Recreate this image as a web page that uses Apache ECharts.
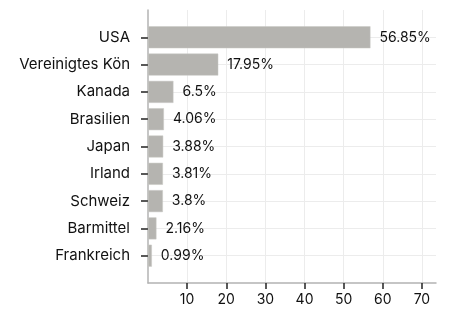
<!DOCTYPE html>
<html><head><meta charset="utf-8">
<script src="https://cdn.jsdelivr.net/npm/echarts@6/dist/echarts.min.js"></script>
<style>html,body{margin:0;padding:0;background:#fff}#c{width:449px;height:315px}</style>
</head><body><div id="c"></div>
<script>
const categories = ["USA","Vereinigtes Kön","Kanada","Brasilien","Japan","Irland","Schweiz","Barmittel","Frankreich"];
const values = [56.85, 17.95, 6.5, 4.06, 3.88, 3.81, 3.8, 2.16, 0.99];
const labels = ["56.85%","17.95%","6.5%","4.06%","3.88%","3.81%","3.8%","2.16%","0.99%"];
const xTicks = [10, 20, 30, 40, 50, 60, 70];

const cats = [''].concat(categories.slice().reverse()).concat(['']);
const vals = [null].concat(values.slice().reverse()).concat([null]);
const labs = [''].concat(labels.slice().reverse()).concat(['']);
const font = 'Inter, "Noto Sans", sans-serif';
const chart = echarts.init(document.getElementById('c'), null, {renderer:'canvas'});
chart.setOption({
  animation:false,
  grid:{left:148,right:13,top:10,bottom:32,containLabel:false},
  xAxis:{type:'value',min:0,max:73.6,
    axisLine:{show:true,lineStyle:{color:'#b3b3b3',width:1.5}},
    axisTick:{show:true,customValues:xTicks,length:6,lineStyle:{color:'#222',width:1.5}},
    axisLabel:{customValues:xTicks,color:'#111',fontSize:14,fontFamily:font,margin:10},
    splitLine:{show:true,lineStyle:{color:'#ececec',width:1}}
  },
  yAxis:{type:'category',data:cats,boundaryGap:false,
    axisLine:{show:true,lineStyle:{color:'#b3b3b3',width:1.5}},
    axisTick:{show:true,length:7,interval:(i,v)=>v!=='',lineStyle:{color:'#222',width:1.5}},
    axisLabel:{color:'#111',fontSize:15,fontFamily:font,margin:18,interval:0},
    splitLine:{show:true,interval:(i,v)=>v!=='',lineStyle:{color:'#ececec',width:1}}
  },
  series:[{type:'bar',data:vals,barWidth:22,
    itemStyle:{color:'#b5b4b0',borderColor:'#c9c8c5',borderWidth:0.5},
    label:{show:true,position:'right',distance:9,color:'#111',fontSize:14,fontFamily:font,
      formatter:p=>labs[p.dataIndex]}
  }]
});
</script></body></html>
